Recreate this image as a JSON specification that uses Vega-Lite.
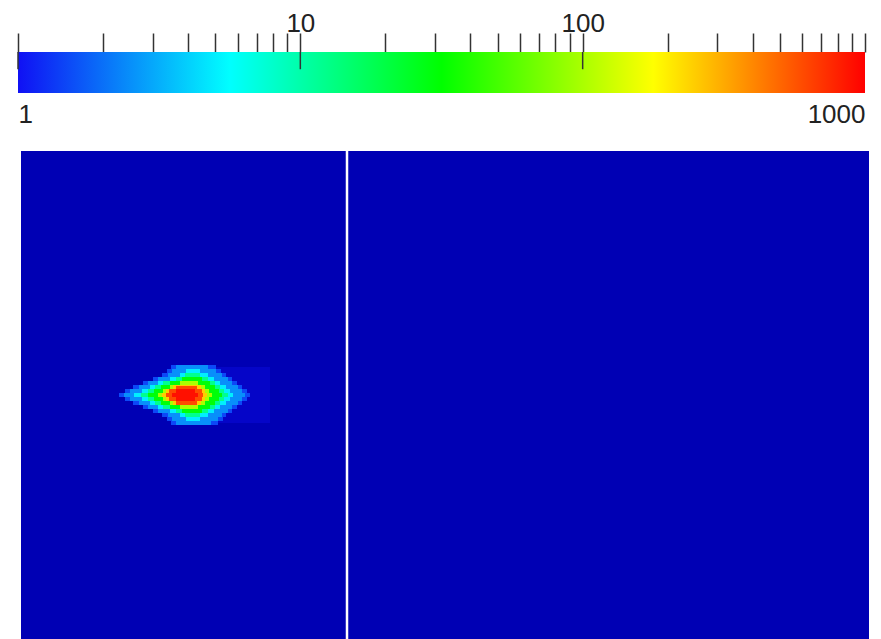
{
  "$schema": "https://vega.github.io/schema/vega-lite/v6.json",
  "padding": {"left": 17, "top": 10, "right": 0, "bottom": 0},
  "spacing": 22,
  "config": {"view": {"stroke": null}, "font": "Liberation Sans"},
  "datasets": {
    "heat": [
      {"x0":0,"x1":848,"y0":0,"y1":488,"v":0.5},
      {"x0":194,"x1":249,"y0":216,"y1":272,"v":0.62},
      {"x0":150,"x1":195,"y0":214,"y1":218,"v":1.5},
      {"x0":150,"x1":197,"y0":270,"y1":274,"v":1.5},
      {"x0":146,"x1":200,"y0":218,"y1":222,"v":1.5},
      {"x0":146,"x1":202,"y0":266,"y1":270,"v":1.5},
      {"x0":141,"x1":205,"y0":222,"y1":226,"v":1.5},
      {"x0":141,"x1":205,"y0":262,"y1":266,"v":1.5},
      {"x0":132,"x1":211,"y0":226,"y1":230,"v":1.5},
      {"x0":132,"x1":211,"y0":258,"y1":262,"v":1.5},
      {"x0":122,"x1":216,"y0":230,"y1":234,"v":1.5},
      {"x0":122,"x1":216,"y0":254,"y1":258,"v":1.5},
      {"x0":112,"x1":221,"y0":234,"y1":238,"v":1.5},
      {"x0":112,"x1":221,"y0":250,"y1":254,"v":1.5},
      {"x0":104,"x1":226,"y0":238,"y1":242,"v":1.5},
      {"x0":104,"x1":226,"y0":246,"y1":250,"v":1.5},
      {"x0":98,"x1":229,"y0":242,"y1":246,"v":1.5},
      {"x0":155,"x1":187,"y0":214,"y1":218,"v":2.5},
      {"x0":155,"x1":190,"y0":270,"y1":274,"v":2.5},
      {"x0":151,"x1":195,"y0":218,"y1":222,"v":2.5},
      {"x0":151,"x1":197,"y0":266,"y1":270,"v":2.5},
      {"x0":147,"x1":201,"y0":222,"y1":226,"v":2.5},
      {"x0":147,"x1":201,"y0":262,"y1":266,"v":2.5},
      {"x0":137,"x1":207,"y0":226,"y1":230,"v":2.5},
      {"x0":137,"x1":207,"y0":258,"y1":262,"v":2.5},
      {"x0":127,"x1":211,"y0":230,"y1":234,"v":2.5},
      {"x0":127,"x1":211,"y0":254,"y1":258,"v":2.5},
      {"x0":118,"x1":217,"y0":234,"y1":238,"v":2.5},
      {"x0":118,"x1":217,"y0":250,"y1":254,"v":2.5},
      {"x0":109,"x1":221,"y0":238,"y1":242,"v":2.5},
      {"x0":109,"x1":221,"y0":246,"y1":250,"v":2.5},
      {"x0":103,"x1":224,"y0":242,"y1":246,"v":2.5},
      {"x0":165,"x1":179,"y0":218,"y1":222,"v":5},
      {"x0":165,"x1":179,"y0":266,"y1":270,"v":5},
      {"x0":159,"x1":187,"y0":222,"y1":226,"v":5},
      {"x0":159,"x1":187,"y0":262,"y1":266,"v":5},
      {"x0":149,"x1":193,"y0":226,"y1":230,"v":5},
      {"x0":149,"x1":193,"y0":258,"y1":262,"v":5},
      {"x0":137,"x1":199,"y0":230,"y1":234,"v":5},
      {"x0":137,"x1":199,"y0":254,"y1":258,"v":5},
      {"x0":129,"x1":205,"y0":234,"y1":238,"v":5},
      {"x0":129,"x1":205,"y0":250,"y1":254,"v":5},
      {"x0":121,"x1":209,"y0":238,"y1":242,"v":5},
      {"x0":121,"x1":209,"y0":246,"y1":250,"v":5},
      {"x0":113,"x1":212,"y0":242,"y1":246,"v":5},
      {"x0":164,"x1":179,"y0":222,"y1":226,"v":12},
      {"x0":164,"x1":179,"y0":262,"y1":266,"v":12},
      {"x0":155,"x1":187,"y0":226,"y1":230,"v":12},
      {"x0":155,"x1":187,"y0":258,"y1":262,"v":12},
      {"x0":142,"x1":194,"y0":230,"y1":234,"v":12},
      {"x0":142,"x1":194,"y0":254,"y1":258,"v":12},
      {"x0":134,"x1":199,"y0":234,"y1":238,"v":12},
      {"x0":134,"x1":199,"y0":250,"y1":254,"v":12},
      {"x0":127,"x1":203,"y0":238,"y1":242,"v":12},
      {"x0":127,"x1":203,"y0":246,"y1":250,"v":12},
      {"x0":120,"x1":207,"y0":242,"y1":246,"v":12},
      {"x0":161,"x1":181,"y0":226,"y1":230,"v":30},
      {"x0":161,"x1":181,"y0":258,"y1":262,"v":30},
      {"x0":149,"x1":189,"y0":230,"y1":234,"v":30},
      {"x0":149,"x1":189,"y0":254,"y1":258,"v":30},
      {"x0":140,"x1":194,"y0":234,"y1":238,"v":30},
      {"x0":140,"x1":194,"y0":250,"y1":254,"v":30},
      {"x0":133,"x1":198,"y0":238,"y1":242,"v":30},
      {"x0":133,"x1":198,"y0":246,"y1":250,"v":30},
      {"x0":127,"x1":201,"y0":242,"y1":246,"v":30},
      {"x0":159,"x1":177,"y0":230,"y1":234,"v":100},
      {"x0":159,"x1":177,"y0":254,"y1":258,"v":100},
      {"x0":149,"x1":184,"y0":234,"y1":238,"v":100},
      {"x0":149,"x1":184,"y0":250,"y1":254,"v":100},
      {"x0":142,"x1":188,"y0":238,"y1":242,"v":100},
      {"x0":142,"x1":188,"y0":246,"y1":250,"v":100},
      {"x0":137,"x1":191,"y0":242,"y1":246,"v":100},
      {"x0":152,"x1":180,"y0":234,"y1":238,"v":250},
      {"x0":152,"x1":180,"y0":250,"y1":254,"v":250},
      {"x0":145,"x1":184,"y0":238,"y1":242,"v":250},
      {"x0":145,"x1":184,"y0":246,"y1":250,"v":250},
      {"x0":141,"x1":186,"y0":242,"y1":246,"v":250},
      {"x0":155,"x1":176,"y0":235,"y1":238,"v":600},
      {"x0":155,"x1":176,"y0":250,"y1":254,"v":600},
      {"x0":148,"x1":181,"y0":238,"y1":242,"v":600},
      {"x0":148,"x1":181,"y0":246,"y1":250,"v":600},
      {"x0":145,"x1":182,"y0":242,"y1":246,"v":600},
      {"x0":155,"x1":174,"y0":238,"y1":242,"v":900},
      {"x0":155,"x1":174,"y0":246,"y1":250,"v":900},
      {"x0":151,"x1":177,"y0":242,"y1":246,"v":900}
    ]
  },
  "vconcat": [
    {
      "width": 847,
      "height": 41,
      "resolve": {"axis": {"x": "independent"}},
      "layer": [
        {
          "data": {"values": [{"lo": 1, "hi": 1000}]},
          "mark": {
            "type": "rect",
            "color": {
              "gradient": "linear", "x1": 0, "x2": 1, "y1": 0, "y2": 0,
              "stops": [
                {"offset": 0, "color": "#1010f4"},
                {"offset": 0.25, "color": "#00ffff"},
                {"offset": 0.5, "color": "#00ff00"},
                {"offset": 0.75, "color": "#ffff00"},
                {"offset": 1, "color": "#ff0000"}
              ]
            }
          },
          "encoding": {
            "x": {
              "field": "lo", "type": "quantitative",
              "scale": {"type": "log", "domain": [1, 1000], "nice": false},
              "axis": {
                "orient": "top", "title": null, "domain": false, "grid": false,
                "values": [1,2,3,4,5,6,7,8,9,10,20,30,40,50,60,70,80,90,100,200,300,400,500,600,700,800,900,1000],
                "tickSize": 19, "tickWidth": 1.5, "tickColor": "#333333",
                "labelExpr": "datum.value == 10 ? '10' : datum.value == 100 ? '100' : ''",
                "labelFontSize": 26, "labelColor": "#222222", "labelPadding": 2,
                "labelBaseline": "alphabetic", "labelAngle": 0,
                "labelOverlap": false, "labelBound": false, "labelFlush": false
              }
            },
            "x2": {"field": "hi"},
            "y": {"datum": 0, "type": "quantitative", "scale": {"domain": [0, 1]}, "axis": null},
            "y2": {"datum": 1}
          }
        },
        {
          "data": {"values": [{"t": 1}, {"t": 10}, {"t": 100}]},
          "mark": {"type": "rule", "color": "#333333", "strokeWidth": 1.5},
          "encoding": {
            "x": {
              "field": "t", "type": "quantitative",
              "axis": {
                "orient": "bottom", "title": null, "domain": false, "grid": false, "ticks": false,
                "values": [1, 1000], "format": "d",
                "labelFontSize": 26, "labelColor": "#222222", "labelPadding": 29,
                "labelBaseline": "alphabetic", "labelFlush": true, "labelAngle": 0,
                "labelOverlap": false
              }
            },
            "y": {"datum": 1, "type": "quantitative"},
            "y2": {"datum": 0.58}
          }
        }
      ]
    },
    {
      "width": 851,
      "height": 488,
      "layer": [
        {
          "data": {"name": "heat"},
          "mark": {"type": "rect"},
          "encoding": {
            "x": {"field": "x0", "type": "quantitative", "scale": {"domain": [-3, 848], "nice": false, "zero": false}, "axis": null},
            "x2": {"field": "x1"},
            "y": {"field": "y0", "type": "quantitative", "scale": {"domain": [0, 488], "reverse": true, "nice": false}, "axis": null},
            "y2": {"field": "y1"},
            "color": {
              "field": "v", "type": "quantitative",
              "scale": {"type": "log", "domain": [0.5, 1, 5.623, 31.62, 177.8, 1000], "range": ["#0000b4", "#1010f4", "#00ffff", "#00ff00", "#ffff00", "#ff0000"], "interpolate": "rgb"},
              "legend": null
            }
          }
        },
        {
          "data": {"values": [{"x": 326}]},
          "mark": {"type": "rule", "color": "#ffffff", "strokeWidth": 2.5},
          "encoding": {"x": {"field": "x", "type": "quantitative"}}
        }
      ]
    }
  ]
}
